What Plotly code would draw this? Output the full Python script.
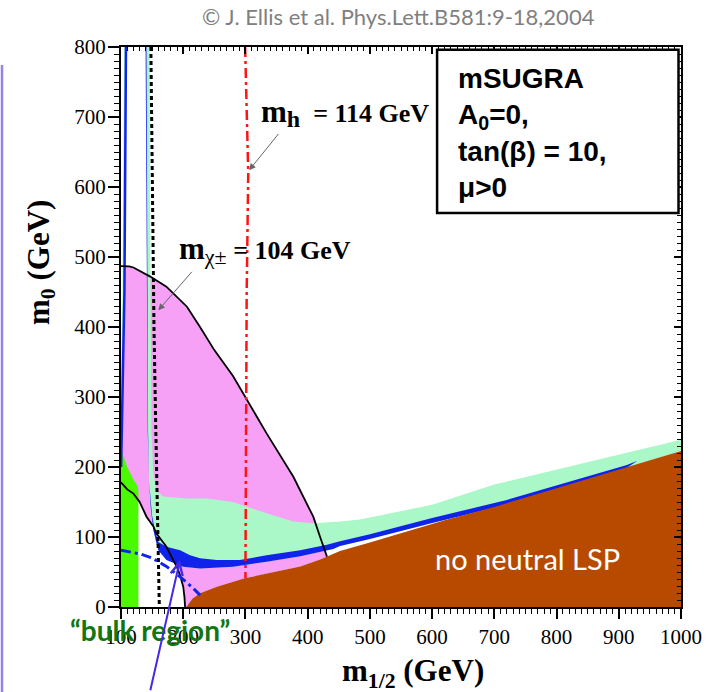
import plotly.graph_objects as go

# ---------------- data (GeV) ----------------
x_ticks = [100, 200, 300, 400, 500, 600, 700, 800, 900, 1000]
y_ticks = [0, 100, 200, 300, 400, 500, 600, 700, 800]

# pink region (chargino-excluded area)
pink_x = [100, 101, 102.5, 104, 105.5, 106.5, 107, 108, 113, 120, 147, 173, 206, 227, 250, 280, 302, 334, 377, 409, 431,
          420, 388, 350, 300, 254, 227, 215, 205, 203, 202, 200, 195, 189.5, 181, 173, 165, 157, 152, 141, 130, 120, 110, 100]
pink_y = [178, 240, 300, 380, 450, 487, 487, 487, 486.5, 485, 472, 457.6, 429, 400, 367, 330, 296, 248, 186, 129, 72,
          68, 58, 51, 41, 29, 19.5, 12, 0, 0, 14, 29, 45, 57.6, 72, 86, 95, 105, 115, 129, 150, 162, 168, 178]

# mint region
mint_x = [141, 146, 146.5, 147.5, 149, 152, 158, 168, 173, 206, 238, 280, 334, 377, 409, 452, 484, 600, 700, 800, 900, 1000,
          1000, 913, 720, 600, 500, 452, 441, 388, 334, 280, 227, 200, 173, 160, 157, 152, 148, 145, 143.5, 142.5, 141.5, 141]
mint_y = [800, 800, 600, 400, 250, 190, 165, 158, 157.6, 155, 155, 150, 134, 122, 119.5, 122, 125, 146, 175, 196, 217, 239,
          223, 199, 146, 120, 97, 87, 83, 72.6, 64.7, 57.6, 55, 57.6, 67, 81, 91, 110, 140, 180, 250, 400, 600, 800]

# blue WMAP band
blue_x = [139.5, 140.5, 141.3, 143, 145, 150, 154, 160, 173, 195, 211, 227, 254, 291, 334, 388, 431, 452, 500, 600, 720, 913, 930,
          913, 720, 600, 500, 452, 441, 388, 334, 280, 227, 200, 173, 160, 157, 152, 148, 145, 143.5, 142.5, 141.5, 141]
blue_y = [800, 600, 400, 250, 180, 130, 112, 93, 86, 81, 74, 69.5, 67, 67, 74, 81, 89, 94, 104, 127, 153, 203, 209,
          199, 146, 120, 97, 87, 83, 72.6, 64.7, 57.6, 55, 57.6, 67, 81, 91, 110, 140, 180, 250, 400, 600, 800]

# green region
green_x = [100, 100, 102, 110, 120, 127, 128, 128]
green_y = [0, 222, 220, 200, 182, 172, 165, 0]

# brown (charged LSP)
brown_x = [205, 215, 227, 254, 299, 350, 388, 420, 452, 500, 560, 620, 700, 800, 900, 1000, 1000]
brown_y = [0, 12, 19.5, 29, 41, 51, 58, 68, 80, 92, 108, 124, 143, 170, 196, 223, 0]

# chargino mass contour (m_chi+- = 104 GeV)
charg_x = [100, 108, 113, 120, 147, 173, 206, 227, 250, 280, 302, 334, 377, 409, 420, 431]
charg_y = [487, 487, 486.5, 485, 472, 457.6, 429, 400, 367, 330, 296, 248, 186, 129, 100, 72]

# lower-left black contour
sel_x = [100, 110, 120, 130, 141, 152, 157, 165, 173, 181, 189.5, 195, 200, 202, 203]
sel_y = [178, 168, 162, 150, 129, 115, 105, 95, 86, 72, 57.6, 45, 29, 14, 0]

# black dotted contour
dot_x = [148, 150, 153, 156, 159, 161.6]
dot_y = [800, 600, 400, 250, 120, 0]

# m_h = 114 GeV contour
higgs_x = [299.5, 304.5, 302, 301, 301, 300]
higgs_y = [800, 620, 450, 300, 150, 41]

# blue dash-dot contour
bdd_x = [100, 130, 150, 173, 195, 216, 227]
bdd_y = [81, 76, 70, 58, 43, 27, 17]

# left thin blue strip
lblue_x = [108, 107, 105.5, 104, 102.5, 101, 100.2]
lblue_y = [800, 600, 450, 380, 300, 240, 200]

PINK = "rgb(246,160,246)"
MINT = "rgb(170,248,200)"
BLUE = "rgb(15,35,235)"
GREEN = "rgb(76,250,0)"
BROWN = "rgb(184,74,0)"

fig = go.Figure()

def region(x, y, color):
    fig.add_trace(go.Scatter(x=x, y=y, fill="toself", fillcolor=color, mode="lines",
                             line=dict(width=0, color=color), hoverinfo="skip", showlegend=False))

region(pink_x, pink_y, PINK)
region(mint_x, mint_y, MINT)
region(green_x, green_y, GREEN)
region(blue_x, blue_y, BLUE)
region(brown_x, brown_y, BROWN)

def line(x, y, color, width, dash="solid"):
    fig.add_trace(go.Scatter(x=x, y=y, mode="lines", line=dict(color=color, width=width, dash=dash),
                             hoverinfo="skip", showlegend=False))

line([v - 1.5 for v in lblue_x], lblue_y, MINT, 2)
line(lblue_x, lblue_y, BLUE, 2.5)
line(charg_x, charg_y, "black", 1.8)
line(sel_x, sel_y, "black", 1.8)
line(dot_x, dot_y, "black", 3, "4px,3px")
line(higgs_x, higgs_y, "rgb(255,20,20)", 2.5, "10px,4px,3px,4px")
line(bdd_x, bdd_y, BLUE, 3, "10px,4px,3px,4px")

# dummy trace for top/right mirrored axes
fig.add_trace(go.Scatter(x=[None], y=[None], xaxis="x2", yaxis="y2", showlegend=False, hoverinfo="skip"))

SERIF = "Liberation Serif, Times New Roman, serif"
SANS = "Liberation Sans, Arial, sans-serif"
CAL = "Lato, Open Sans, sans-serif"

axis_common = dict(showgrid=False, zeroline=False, showline=True, linecolor="black", linewidth=2)

fig.update_layout(
    width=715, height=692,
    margin=dict(l=121, r=34, t=47, b=85),
    paper_bgcolor="white", plot_bgcolor="white",
    xaxis=dict(range=[100, 1000], tickvals=x_ticks, ticks="outside", ticklen=10, tickwidth=2,
               tickcolor="black", tickfont=dict(family=SERIF, size=21, color="black"),
               minor=dict(ticks="outside", dtick=10, ticklen=5, tickwidth=1, tickcolor="black"),
               **axis_common),
    yaxis=dict(range=[0, 800], tickvals=y_ticks, ticks="outside", ticklen=11, tickwidth=2,
               tickcolor="black", tickfont=dict(family=SERIF, size=21, color="black"),
               minor=dict(ticks="outside", dtick=10, ticklen=5, tickwidth=1, tickcolor="black"),
               ticklabelstandoff=-2,
               **axis_common),
    xaxis2=dict(range=[100, 1000], overlaying="x", side="top", anchor="y2", tickvals=x_ticks,
                ticks="inside", ticklen=7, tickwidth=2, tickcolor="black", showticklabels=False,
                minor=dict(ticks="inside", dtick=10, ticklen=4, tickwidth=1, tickcolor="black"),
                **axis_common),
    yaxis2=dict(range=[0, 800], overlaying="y", side="right", anchor="x2", tickvals=y_ticks,
                ticks="inside", ticklen=7, tickwidth=2, tickcolor="black", showticklabels=False,
                minor=dict(ticks="inside", dtick=10, ticklen=4, tickwidth=1, tickcolor="black"),
                **axis_common),
)

# info box
fig.add_shape(type="rect", xref="x", yref="y", x0=608, y0=563, x1=996, y1=796,
              line=dict(color="black", width=2.5), fillcolor="white", layer="above")
fig.add_annotation(xref="x", yref="y", x=639, y=677, xanchor="left", yanchor="middle", align="left",
                   showarrow=False,
                   text="<b>mSUGRA<br>A<sub>0</sub>=0,<br>tan(β) = 10,<br>μ>0</b>",
                   font=dict(family=SANS, size=28, color="black"))

# left purple frame line
fig.add_shape(type="line", xref="paper", yref="paper", x0=-0.2125, x1=-0.2125, y0=0.968, y1=-0.16,
              line=dict(color="rgb(150,130,235)", width=2.5))

# labels
fig.add_annotation(xref="x", yref="y", x=322, y=706, xanchor="left", yanchor="middle", showarrow=False,
                   text="<b><span style='font-size:31px'>m</span><sub><span style='font-size:24px'>h</span></sub>  = 114 GeV</b>",
                   font=dict(family=SERIF, size=26, color="black"))
fig.add_annotation(xref="x", yref="y", x=306, y=624, ax=355, ay=678, axref="x", ayref="y",
                   showarrow=True, arrowhead=2, arrowsize=1.3, arrowwidth=1, arrowcolor="#666", text="")

fig.add_annotation(xref="x", yref="y", x=190, y=510, xanchor="left", yanchor="middle", showarrow=False,
                   text="<b><span style='font-size:31px'>m</span></b><sub><span style='font-size:22px'>χ±</span></sub><b> = 104 GeV</b>",
                   font=dict(family=SERIF, size=26, color="black"))
fig.add_annotation(xref="x", yref="y", x=160, y=424, ax=216, ay=481, axref="x", ayref="y",
                   showarrow=True, arrowhead=2, arrowsize=1.3, arrowwidth=1, arrowcolor="#666", text="")

fig.add_annotation(xref="x", yref="y", x=754, y=70, xanchor="center", yanchor="middle", showarrow=False,
                   text="no neutral LSP", font=dict(family=CAL, size=29, color="white"))

fig.add_annotation(xref="paper", yref="paper", x=0.495, y=1.054, xanchor="center", yanchor="middle",
                   showarrow=False, text="© J. Ellis et al. Phys.Lett.B581:9-18,2004",
                   font=dict(family=CAL, size=22, color="rgb(128,128,128)"))

# axis titles
fig.add_annotation(xref="paper", yref="paper", x=0.391, y=-0.118, xanchor="left", yanchor="middle",
                   showarrow=False, text="<b>m<sub>1/2</sub> (GeV)</b>",
                   font=dict(family=SERIF, size=31, color="black"))
fig.add_annotation(xref="paper", yref="paper", x=-0.143, y=0.616, xanchor="center", yanchor="middle",
                   textangle=-90, showarrow=False,
                   text="<b>m<sub>0</sub> (GeV)</b>", font=dict(family=SERIF, size=31, color="black"))

# bulk region label and arrow
fig.add_annotation(xref="paper", yref="paper", x=0.0518, y=-0.041, xanchor="center", yanchor="middle",
                   showarrow=False, text="<b>“bulk region”</b>",
                   font=dict(family=CAL, size=28, color="rgb(18,118,18)"))
fig.add_annotation(xref="x", yref="y", x=194.8, y=67, ax=146.6, ay=-121, axref="x", ayref="y",
                   showarrow=True, arrowhead=5, arrowsize=1.2, arrowwidth=2,
                   arrowcolor="rgb(70,40,230)", text="")

fig.write_html("out.html")
